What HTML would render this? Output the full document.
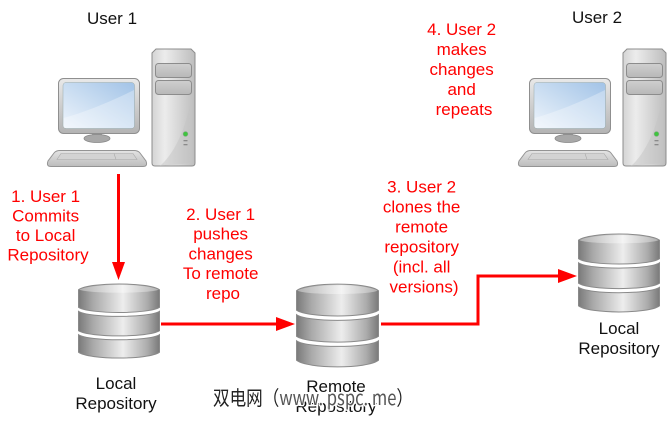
<!DOCTYPE html>
<html><head><meta charset="utf-8"><style>
html,body{margin:0;padding:0;background:#fff;}
svg{display:block;}
text{font-family:"Liberation Sans",Arial,sans-serif;font-size:17px;}
.r{fill:#ff0000;}
.k{fill:#111;}
</style></head><body>
<svg width="670" height="421" viewBox="0 0 670 421" xmlns="http://www.w3.org/2000/svg">
<defs>
<linearGradient id="dbg" x1="0" y1="0" x2="1" y2="0">
<stop offset="0" stop-color="#7a7a7a"/><stop offset="0.18" stop-color="#a9a9a9"/><stop offset="0.55" stop-color="#ededed"/><stop offset="0.85" stop-color="#acacac"/><stop offset="1" stop-color="#7a7a7a"/>
</linearGradient>
<linearGradient id="dbtop" x1="0" y1="0" x2="1" y2="0">
<stop offset="0" stop-color="#bdbdbd"/><stop offset="0.55" stop-color="#f6f6f6"/><stop offset="1" stop-color="#bdbdbd"/>
</linearGradient>
<linearGradient id="bez" x1="0" y1="0" x2="0" y2="1">
<stop offset="0" stop-color="#e9e9e9"/><stop offset="1" stop-color="#b3b3b3"/>
</linearGradient>
<linearGradient id="scr" x1="0" y1="1" x2="1" y2="0">
<stop offset="0" stop-color="#eef4fb"/><stop offset="0.5" stop-color="#c8dcf1"/><stop offset="1" stop-color="#a2c3e7"/>
</linearGradient>
<linearGradient id="tow" x1="0" y1="0" x2="1" y2="0">
<stop offset="0" stop-color="#d4d4d4"/><stop offset="0.3" stop-color="#ececec"/><stop offset="1" stop-color="#bdbdbd"/>
</linearGradient>
<linearGradient id="bay" x1="0" y1="0" x2="0" y2="1">
<stop offset="0" stop-color="#cfcfcf"/><stop offset="1" stop-color="#b8b8b8"/>
</linearGradient>
<linearGradient id="kb" x1="0" y1="0" x2="0" y2="1">
<stop offset="0" stop-color="#e4e4e4"/><stop offset="1" stop-color="#bcbcbc"/>
</linearGradient>
<g id="db">
<path d="M1.5,8 C12,0 72,0 82.5,8 L82.5,26 C72,33 12,33 1.5,26 Z" fill="url(#dbg)" stroke="#8a8a8a" stroke-width="1" vector-effect="non-scaling-stroke"/>
<path d="M2.5,8 C12,1.5 72,1.5 81.5,8 C72,12 12,12 2.5,8 Z" fill="url(#dbtop)" opacity="0.8"/>
<path d="M1.5,30 C12,37 72,37 82.5,30 L82.5,50 C72,57 12,57 1.5,50 Z" fill="url(#dbg)" stroke="#8a8a8a" stroke-width="1" vector-effect="non-scaling-stroke"/>
<path d="M1.5,54 C12,61 72,61 82.5,54 L82.5,72 C72,80 12,80 1.5,72 Z" fill="url(#dbg)" stroke="#8a8a8a" stroke-width="1" vector-effect="non-scaling-stroke"/>
</g>
<g id="pc">
<path d="M156,49 L191,49 L195,53 L195,163 Q195,166 192,166 L155,166 Q152,166 152,163 L152,53 Z" fill="url(#tow)" stroke="#8c8c8c" stroke-width="1"/>
<path d="M160,166 C178,150 188,120 192,95 L192,163 Z" fill="#c4c4c4" opacity="0.5"/>
<rect x="155.5" y="63.5" width="36" height="14" rx="3" fill="url(#bay)" stroke="#8c8c8c" stroke-width="1"/>
<rect x="155.5" y="80.5" width="36" height="14" rx="3" fill="url(#bay)" stroke="#8c8c8c" stroke-width="1"/>
<circle cx="185.5" cy="134" r="2.4" fill="#3fc43f" stroke="#8aa88a" stroke-width="0.6"/>
<rect x="183.5" y="140" width="4" height="1.3" fill="#8a8a8a"/>
<rect x="183.5" y="144" width="4" height="1.3" fill="#8a8a8a"/>
<rect x="92" y="132" width="10" height="5" fill="#a5a5a5"/>
<ellipse cx="97" cy="138.5" rx="13" ry="4" fill="#a8a8a8" stroke="#888" stroke-width="0.8"/>
<rect x="58.5" y="78.5" width="81" height="55" rx="5" fill="url(#bez)" stroke="#8f8f8f" stroke-width="1"/>
<rect x="63" y="82.5" width="71.5" height="46" rx="3" fill="url(#scr)" stroke="#9aa" stroke-width="0.5"/>
<path d="M63.5,118 C85,112 110,102 134,90 L134,126 Q134,128 132,128 L65,128 Q63.5,128 63.5,126 Z" fill="#ffffff" opacity="0.3"/>
<path d="M60,150.5 L134,150.5 Q138,150.5 140,153 L146,161 Q148,166.5 143,166.5 L51,166.5 Q46,166.5 48,161 L54,153 Q56,150.5 60,150.5 Z" fill="url(#kb)" stroke="#949494" stroke-width="1"/>
<path d="M61,153.5 L133,153.5 L137,159.5 L57,159.5 Z" fill="#d3d3d3" stroke="#a9a9a9" stroke-width="0.6"/>
<line x1="114" y1="153.5" x2="116" y2="159.5" stroke="#a9a9a9" stroke-width="0.6"/>
</g>
</defs>

<rect width="670" height="421" fill="#fff"/>

<use href="#pc"/>
<use href="#pc" transform="translate(471,0)"/>

<use href="#db" transform="translate(77,282) scale(1,0.975)"/>
<use href="#db" transform="translate(295,282) scale(1.012,1.0875)"/>
<use href="#db" transform="translate(577,232) scale(1,1.025)"/>

<line x1="118.5" y1="174" x2="118.5" y2="263" stroke="#ff0000" stroke-width="3"/>
<polygon points="112,262 125,262 118.5,280" fill="#ff0000"/>
<line x1="161" y1="324" x2="278" y2="324" stroke="#ff0000" stroke-width="3"/>
<polygon points="276,317 276,331 295,324" fill="#ff0000"/>
<polyline points="381,324 478,324 478,276 560,276" fill="none" stroke="#ff0000" stroke-width="3"/>
<polygon points="558,269 558,283 577,276" fill="#ff0000"/>

<text class="k" x="112" y="24" text-anchor="middle">User 1</text>
<text class="k" x="597" y="23" text-anchor="middle">User 2</text>
<text class="k" x="116" y="389" text-anchor="middle">Local</text>
<text class="k" x="116" y="409" text-anchor="middle">Repository</text>
<text class="k" x="336" y="392" text-anchor="middle">Remote</text>
<text class="k" x="336" y="412" text-anchor="middle">Repository</text>
<text class="k" x="619" y="334" text-anchor="middle">Local</text>
<text class="k" x="619" y="354" text-anchor="middle">Repository</text>

<text class="r" text-anchor="middle">
<tspan x="48" y="202">1. User 1</tspan>
<tspan x="48" y="221.5">Commits</tspan>
<tspan x="48" y="241">to Local</tspan>
<tspan x="48" y="260.5">Repository</tspan>
</text>
<text class="r" text-anchor="middle">
<tspan x="223" y="220">2. User 1</tspan>
<tspan x="223" y="239.7">pushes</tspan>
<tspan x="223" y="259.4">changes</tspan>
<tspan x="223" y="279.1">To remote</tspan>
<tspan x="223" y="298.8">repo</tspan>
</text>
<text class="r" text-anchor="middle">
<tspan x="424" y="192.5">3. User 2</tspan>
<tspan x="424" y="212.5">clones the</tspan>
<tspan x="424" y="232.5">remote</tspan>
<tspan x="424" y="252.5">repository</tspan>
<tspan x="424" y="272.5">(incl. all</tspan>
<tspan x="424" y="292.5">versions)</tspan>
</text>
<text class="r" text-anchor="middle">
<tspan x="464" y="35">4. User 2</tspan>
<tspan x="464" y="55">makes</tspan>
<tspan x="464" y="75">changes</tspan>
<tspan x="464" y="95">and</tspan>
<tspan x="464" y="115">repeats</tspan>
</text>

<text x="213" y="405" textLength="200" lengthAdjust="spacingAndGlyphs" style="font-family:'Noto Sans CJK SC','WenQuanYi Zen Hei',sans-serif;font-size:20px;" fill="#222" stroke="#fff" stroke-width="2.5" paint-order="stroke"><tspan>双电网（</tspan><tspan fill="#555">www. pspc. me</tspan><tspan>）</tspan></text>
</svg>
</body></html>
